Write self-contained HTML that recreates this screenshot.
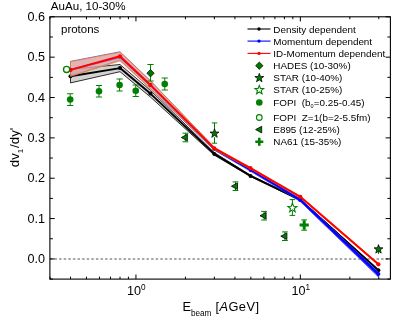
<!DOCTYPE html><html><head><meta charset="utf-8"><style>html,body{margin:0;padding:0;background:#fff}svg{display:block;will-change:transform;transform:translateZ(0)}text{font-family:"Liberation Sans",sans-serif;fill:#000}</style></head><body>
<svg width="415" height="321" viewBox="0 0 415 321">
<rect width="415" height="321" fill="#fff"/>
<line x1="49.9" y1="259.02" x2="390.4" y2="259.02" stroke="#555" stroke-width="1" stroke-dasharray="2.5,2.1"/>
<polygon points="70.5,69.3 120.0,64.5 150.4,90.3 214.3,152.6 250.5,175.3 300.3,199.3 378.4,269.7 378.4,270.9 300.3,200.5 250.5,176.5 214.3,155.2 150.4,97.0 120.0,71.7 70.5,82.9" fill="#d2d2d2" fill-opacity="1" stroke="#000" stroke-width="0.8" stroke-linejoin="miter"/>
<polyline points="70.5,76.2 120.0,68.1 150.4,93.6 214.3,153.9 250.5,175.9 300.3,199.9 378.4,270.3" fill="none" stroke="#000" stroke-width="1.9" stroke-linejoin="round"/>
<circle cx="70.5" cy="76.2" r="2.0" fill="#000"/>
<circle cx="120.0" cy="68.1" r="2.0" fill="#000"/>
<circle cx="150.4" cy="93.6" r="2.0" fill="#000"/>
<circle cx="214.3" cy="153.9" r="2.0" fill="#000"/>
<circle cx="250.5" cy="175.9" r="2.0" fill="#000"/>
<circle cx="300.3" cy="199.9" r="2.0" fill="#000"/>
<circle cx="378.4" cy="270.3" r="2.0" fill="#000"/>
<polygon points="70.5,61.4 120.0,51.8 150.4,80.7 214.3,147.3 250.5,168.9 300.3,198.8 378.4,272.4 378.4,276.8 300.3,201.5 250.5,171.2 214.3,150.2 150.4,88.7 120.0,59.9 70.5,76.2" fill="#d8b0c0" fill-opacity="0.25" stroke="#2222ff" stroke-width="0.7" stroke-linejoin="miter"/>
<polygon points="300.3,199.0 378.4,272.2 378.4,276.6 300.3,201.4" fill="#0000ff" fill-opacity="0.85" stroke="#5050ff" stroke-width="0.6"/>
<polyline points="70.5,69.6 120.0,57.3 150.4,85.4 214.3,148.9 250.5,170.0 300.3,199.9 378.4,274.0" fill="none" stroke="#0000ff" stroke-width="1.9" stroke-linejoin="round"/>
<circle cx="70.5" cy="69.6" r="1.9" fill="#0000ff"/>
<circle cx="120.0" cy="57.3" r="1.9" fill="#0000ff"/>
<circle cx="150.4" cy="85.4" r="1.9" fill="#0000ff"/>
<circle cx="214.3" cy="148.9" r="1.9" fill="#0000ff"/>
<circle cx="250.5" cy="170.0" r="1.9" fill="#0000ff"/>
<circle cx="300.3" cy="199.9" r="1.9" fill="#0000ff"/>
<circle cx="378.4" cy="274.0" r="1.9" fill="#0000ff"/>
<polygon points="70.5,61.7 120.0,52.2 150.4,81.0 214.3,147.2 250.5,167.5 300.3,196.1 378.4,263.6 378.4,265.0 300.3,197.5 250.5,168.9 214.3,149.6 150.4,88.5 120.0,60.9 70.5,76.4" fill="#d8a0a0" fill-opacity="0.72" stroke="#ff8000" stroke-width="0.7" stroke-linejoin="miter"/>
<polyline points="70.5,69.9 120.0,56.3 150.4,84.9 214.3,148.4 250.5,168.2 300.3,196.8 378.4,264.3" fill="none" stroke="#ff0000" stroke-width="2.0" stroke-linejoin="round"/>
<circle cx="70.5" cy="69.9" r="2.1" fill="#ff0000"/>
<circle cx="120.0" cy="56.3" r="2.1" fill="#ff0000"/>
<circle cx="150.4" cy="84.9" r="2.1" fill="#ff0000"/>
<circle cx="214.3" cy="148.4" r="2.1" fill="#ff0000"/>
<circle cx="250.5" cy="168.2" r="2.1" fill="#ff0000"/>
<circle cx="300.3" cy="196.8" r="2.1" fill="#ff0000"/>
<circle cx="378.4" cy="264.3" r="2.1" fill="#ff0000"/>
<path d="M70.20,93.75V105.50M67.10,93.75h6.2M67.10,105.50h6.2" stroke="#008000" stroke-width="1.0" fill="none"/>
<circle cx="70.2" cy="99.5" r="3.3" fill="#008000"/>
<path d="M99.00,85.50V97.00M95.90,85.50h6.2M95.90,97.00h6.2" stroke="#008000" stroke-width="1.0" fill="none"/>
<circle cx="99" cy="91.25" r="3.3" fill="#008000"/>
<path d="M119.60,79.00V91.00M116.50,79.00h6.2M116.50,91.00h6.2" stroke="#008000" stroke-width="1.0" fill="none"/>
<circle cx="119.6" cy="85" r="3.3" fill="#008000"/>
<path d="M135.75,85.00V96.50M132.65,85.00h6.2M132.65,96.50h6.2" stroke="#008000" stroke-width="1.0" fill="none"/>
<circle cx="135.75" cy="90.75" r="3.3" fill="#008000"/>
<path d="M164.75,78.00V90.00M161.65,78.00h6.2M161.65,90.00h6.2" stroke="#008000" stroke-width="1.0" fill="none"/>
<circle cx="164.75" cy="84" r="3.3" fill="#008000"/>
<circle cx="66.6" cy="69.4" r="3.1" fill="#fff" stroke="#008000" stroke-width="1.35"/>
<path d="M150.50,64.50V81.00M147.40,64.50h6.2M147.40,81.00h6.2" stroke="#008000" stroke-width="1.0" fill="none"/>
<polygon points="150.5,69.5 154.2,73.2 150.5,76.9 146.8,73.2" fill="#007800" stroke="#000" stroke-width="0.7"/>
<path d="M185.40,133.20V141.80M182.50,133.20h5.8M182.50,141.80h5.8" stroke="#008000" stroke-width="1.0" fill="none"/>
<polygon points="181.30,137.50 187.40,134.20 187.40,140.80" fill="#008000" stroke="#000" stroke-width="0.8"/>
<path d="M235.50,181.90V190.50M232.60,181.90h5.8M232.60,190.50h5.8" stroke="#008000" stroke-width="1.0" fill="none"/>
<polygon points="231.40,186.20 237.50,182.90 237.50,189.50" fill="#008000" stroke="#000" stroke-width="0.8"/>
<path d="M264.10,211.40V220.00M261.20,211.40h5.8M261.20,220.00h5.8" stroke="#008000" stroke-width="1.0" fill="none"/>
<polygon points="260.00,215.70 266.10,212.40 266.10,219.00" fill="#008000" stroke="#000" stroke-width="0.8"/>
<path d="M284.90,231.90V240.50M282.00,231.90h5.8M282.00,240.50h5.8" stroke="#008000" stroke-width="1.0" fill="none"/>
<polygon points="280.80,236.20 286.90,232.90 286.90,239.50" fill="#008000" stroke="#000" stroke-width="0.8"/>
<path d="M214.50,122.90V133.00M214.50,137.20V143.20M211.80,122.90h5.4M211.80,143.20h5.4" stroke="#008000" stroke-width="1.0" fill="none"/>
<polygon points="214.50,128.80 215.62,131.96 218.97,132.05 216.31,134.09 217.26,137.30 214.50,135.40 211.74,137.30 212.69,134.09 210.03,132.05 213.38,131.96" fill="#007a00" stroke="#000" stroke-width="0.75" stroke-linejoin="miter"/>
<path d="M378.50,245.00V254.00M378.50,245.00h0M378.50,254.00h0" stroke="#008000" stroke-width="1.0" fill="none"/>
<polygon points="378.50,244.60 379.62,247.76 382.97,247.85 380.31,249.89 381.26,253.10 378.50,251.20 375.74,253.10 376.69,249.89 374.03,247.85 377.38,247.76" fill="#007a00" stroke="#000" stroke-width="0.75" stroke-linejoin="miter"/>
<path d="M292.40,199.60V205.00M292.40,210.60V215.40M289.60,199.60h5.6M289.60,215.40h5.6" stroke="#008000" stroke-width="1.0" fill="none"/>
<polygon points="292.40,203.20 293.58,206.28 296.87,206.45 294.30,208.52 295.16,211.70 292.40,209.90 289.64,211.70 290.50,208.52 287.93,206.45 291.22,206.28" fill="#fff" stroke="#008000" stroke-width="1.1" stroke-linejoin="miter"/>
<path d="M304.20,219.90V230.20M301.30,219.90h5.8M301.30,230.20h5.8" stroke="#008000" stroke-width="1.0" fill="none"/>
<path d="M299.59999999999997,223.5H302.7V220.4H305.7V223.5H308.8V226.5H305.7V229.6H302.7V226.5H299.59999999999997Z" fill="#008000"/>
<rect x="49.9" y="16.8" width="340.5" height="262.3" fill="none" stroke="#000" stroke-width="1.1"/>
<path d="M49.99,279.1v-2.4M49.99,16.8v2.4M70.53,279.1v-2.4M70.53,16.8v2.4M86.46,279.1v-2.4M86.46,16.8v2.4M99.48,279.1v-2.4M99.48,16.8v2.4M110.48,279.1v-2.4M110.48,16.8v2.4M120.02,279.1v-2.4M120.02,16.8v2.4M128.43,279.1v-2.4M128.43,16.8v2.4M135.95,279.1v-4.6M135.95,16.8v4.6M185.44,279.1v-2.4M185.44,16.8v2.4M214.39,279.1v-2.4M214.39,16.8v2.4M234.93,279.1v-2.4M234.93,16.8v2.4M250.86,279.1v-2.4M250.86,16.8v2.4M263.88,279.1v-2.4M263.88,16.8v2.4M274.88,279.1v-2.4M274.88,16.8v2.4M284.42,279.1v-2.4M284.42,16.8v2.4M292.83,279.1v-2.4M292.83,16.8v2.4M300.35,279.1v-4.6M300.35,16.8v4.6M349.84,279.1v-2.4M349.84,16.8v2.4M378.79,279.1v-2.4M378.79,16.8v2.4M49.9,279.10h3.0M390.4,279.10h-3.0M49.9,258.92h4.8M390.4,258.92h-4.8M49.9,238.75h3.0M390.4,238.75h-3.0M49.9,218.57h4.8M390.4,218.57h-4.8M49.9,198.40h3.0M390.4,198.40h-3.0M49.9,178.22h4.8M390.4,178.22h-4.8M49.9,158.04h3.0M390.4,158.04h-3.0M49.9,137.87h4.8M390.4,137.87h-4.8M49.9,117.69h3.0M390.4,117.69h-3.0M49.9,97.52h4.8M390.4,97.52h-4.8M49.9,77.34h3.0M390.4,77.34h-3.0M49.9,57.17h4.8M390.4,57.17h-4.8M49.9,37.00h3.0M390.4,37.00h-3.0M49.9,16.82h4.8M390.4,16.82h-4.8" stroke="#000" stroke-width="1" fill="none"/>
<text x="45.1" y="262.92" font-size="12.6" text-anchor="end">0.0</text>
<text x="45.1" y="222.57" font-size="12.6" text-anchor="end">0.1</text>
<text x="45.1" y="182.22" font-size="12.6" text-anchor="end">0.2</text>
<text x="45.1" y="141.87" font-size="12.6" text-anchor="end">0.3</text>
<text x="45.1" y="101.52" font-size="12.6" text-anchor="end">0.4</text>
<text x="45.1" y="61.17" font-size="12.6" text-anchor="end">0.5</text>
<text x="45.1" y="20.82" font-size="12.6" text-anchor="end">0.6</text>
<text x="127.05" y="295.1" font-size="12.6">10<tspan dy="-5.4" font-size="8.2" dx="0">0</tspan></text>
<text x="291.45" y="295.1" font-size="12.6">10<tspan dy="-5.4" font-size="8.2" dx="0">1</tspan></text>
<text x="182.4" y="311.2" font-size="12.8">E<tspan dy="4.3" font-size="8.2">beam</tspan><tspan dy="-4.3" font-size="12.8" letter-spacing="0.45"> [<tspan font-style="italic">A</tspan>GeV]</tspan></text>
<text transform="translate(18.9,167.2) rotate(-90)" font-size="13.3">dv<tspan dy="4.0" font-size="8">1</tspan><tspan dy="-4.0" font-size="13.3" dx="0.8">/dy'</tspan></text>
<text x="50.8" y="10.3" font-size="11.6">AuAu, 10-30%</text>
<text x="61" y="33" font-size="11.5">protons</text>
<text x="273.3" y="32.60" font-size="9.9">Density dependent</text>
<text x="273.3" y="44.70" font-size="9.9">Momentum dependent</text>
<text x="273.3" y="57.00" font-size="9.9">ID-Momentum dependent</text>
<text x="273.3" y="69.10" font-size="9.9">HADES (10-30%)</text>
<text x="273.3" y="81.20" font-size="9.9">STAR (10-40%)</text>
<text x="273.3" y="93.40" font-size="9.9">STAR (10-25%)</text>
<text x="273.3" y="133.20" font-size="9.9">E895 (12-25%)</text>
<text x="273.3" y="145.40" font-size="9.9">NA61 (15-35%)</text>
<text x="273.3" y="106.1" font-size="9.9">FOPI&#160;&#160;(b<tspan dy="2.2" font-size="5.5">0</tspan><tspan dy="-2.2" font-size="9.9">=0.25-0.45)</tspan></text>
<text x="273.3" y="121.1" font-size="9.9">FOPI&#160;&#160;Z=1(b=2-5.5fm)</text>
<line x1="247.5" x2="270.5" y1="29" y2="29" stroke="#000" stroke-width="1.1"/><circle cx="259" cy="29" r="1.7" fill="#000"/>
<line x1="247.5" x2="270.5" y1="41.1" y2="41.1" stroke="#0000ff" stroke-width="1.1"/><circle cx="259" cy="41.1" r="1.7" fill="#0000ff"/>
<line x1="247.5" x2="270.5" y1="53.4" y2="53.4" stroke="#ff0000" stroke-width="1.1"/><circle cx="259" cy="53.4" r="1.7" fill="#ff0000"/>
<polygon points="259.3,62.0 263.0,65.7 259.3,69.4 255.60000000000002,65.7" fill="#007800" stroke="#000" stroke-width="0.7"/>
<polygon points="259.30,73.30 260.42,76.46 263.77,76.55 261.11,78.59 262.06,81.80 259.30,79.90 256.54,81.80 257.49,78.59 254.83,76.55 258.18,76.46" fill="#007a00" stroke="#000" stroke-width="0.75" stroke-linejoin="miter"/>
<polygon points="259.30,85.40 260.48,88.38 263.67,88.58 261.20,90.62 262.00,93.72 259.30,92.00 256.60,93.72 257.40,90.62 254.93,88.58 258.12,88.38" fill="#fff" stroke="#008000" stroke-width="1.1" stroke-linejoin="miter"/>
<circle cx="259.3" cy="102.5" r="3.3" fill="#008000"/>
<circle cx="259.3" cy="117.5" r="2.85" fill="#fff" stroke="#008000" stroke-width="1.1"/>
<polygon points="255.60,129.60 261.70,126.30 261.70,132.90" fill="#008000" stroke="#000" stroke-width="0.8"/>
<path d="M255.3,140.5H258.0V137.8H260.6V140.5H263.3V143.10000000000002H260.6V145.8H258.0V143.10000000000002H255.3Z" fill="#008000"/>
</svg></body></html>
